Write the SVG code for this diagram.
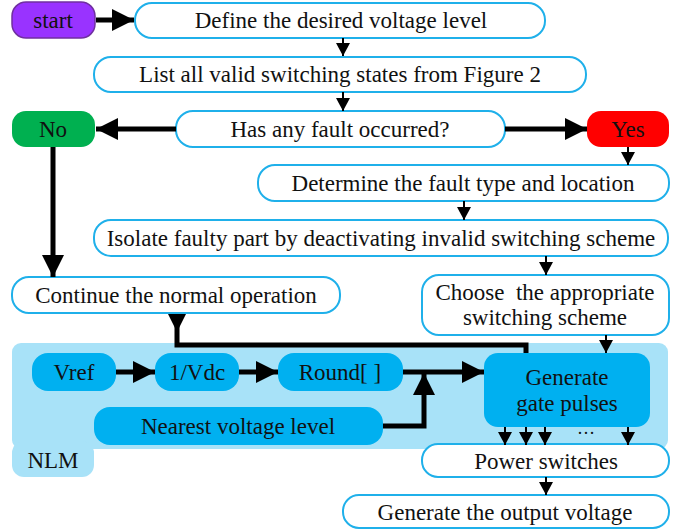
<svg xmlns="http://www.w3.org/2000/svg" width="686" height="529" viewBox="0 0 686 529">
<style>
text{font-family:"Liberation Serif","Times New Roman",serif;font-size:23px;fill:#111;text-anchor:middle;dominant-baseline:central}
.b{fill:#fff;stroke:#1fb0ea;stroke-width:2}
.d{fill:#00b0f0}
.l{fill:#a8e2f8}
.w{stroke:#000;stroke-width:5;fill:none}
.t{stroke:#000;stroke-width:2;fill:none}
</style>
<defs>
<marker id="big" markerUnits="userSpaceOnUse" markerWidth="24" markerHeight="22" refX="22" refY="11" orient="auto"><path d="M0,0L22,11L0,22Z" fill="#000"/></marker>
<marker id="sm" markerUnits="userSpaceOnUse" markerWidth="14" markerHeight="14" refX="13" refY="7" orient="auto"><path d="M0,0L13,7L0,14Z" fill="#000"/></marker>
</defs>
<g id="nlm-bg"><rect class="l" x="12" y="343" width="656" height="106" rx="9"/><rect class="l" x="12" y="441" width="82" height="36" rx="12"/><text x="53" y="460">NLM</text></g>
<g id="start"><rect x="12" y="2" width="83" height="36" rx="14" fill="#9933ff" stroke="#7030a0" stroke-width="1.5"/><text x="53" y="20">start</text></g>
<g id="define"><rect class="b" x="135" y="3" width="410" height="35" rx="17"/><text x="341" y="20">Define the desired voltage level</text></g>
<g id="list"><rect class="b" x="94" y="57" width="492" height="35" rx="17"/><text x="340" y="74">List all valid switching states from Figure 2</text></g>
<g id="fault"><rect class="b" x="176" y="111" width="329" height="36" rx="17"/><text x="340" y="129">Has any fault occurred?</text></g>
<g id="no"><rect x="12" y="111" width="83" height="36" rx="14" fill="#00b050"/><text x="53" y="129">No</text></g>
<g id="yes"><rect x="587" y="111" width="82" height="36" rx="14" fill="#ff0000"/><text x="628" y="129">Yes</text></g>
<g id="determine"><rect class="b" x="258" y="165" width="411" height="36" rx="17"/><text x="463" y="183">Determine the fault type and location</text></g>
<g id="isolate"><rect class="b" x="94" y="220" width="574" height="36" rx="17"/><text x="381" y="238">Isolate faulty part by deactivating invalid switching scheme</text></g>
<g id="continue"><rect class="b" x="12" y="277" width="328" height="36" rx="17"/><text x="176" y="295">Continue the normal operation</text></g>
<g id="choose"><rect class="b" x="422" y="275" width="247" height="60" rx="17"/><text x="545" y="292" style="white-space:pre">Choose  the appropriate</text><text x="545" y="317">switching scheme</text></g>
<g id="vref"><rect class="d" x="32" y="353" width="84" height="38" rx="16"/><text x="74" y="372">Vref</text></g>
<g id="vdc"><rect class="d" x="155" y="353" width="84" height="38" rx="16"/><text x="197" y="372">1/Vdc</text></g>
<g id="round"><rect class="d" x="278" y="353" width="125" height="38" rx="16"/><text x="340" y="372">Round[ ]</text></g>
<g id="nearest"><rect class="d" x="94" y="407" width="289" height="38" rx="16"/><text x="238" y="426">Nearest voltage level</text></g>
<g id="gate"><rect class="d" x="484" y="353" width="166" height="74" rx="14"/><text x="567" y="377">Generate</text><text x="567" y="403">gate pulses</text><text x="586" y="428" style="font-size:18px">…</text></g>
<g id="power"><rect class="b" x="422" y="444" width="247" height="33" rx="16"/><text x="546" y="461">Power switches</text></g>
<g id="output"><rect class="b" x="343" y="495" width="326" height="33" rx="16"/><text x="505" y="512">Generate the output voltage</text></g>
<g id="connectors">
<path class="w" d="M96,20H134" marker-end="url(#big)"/>
<path class="t" d="M343,38V56" marker-end="url(#sm)"/>
<path class="t" d="M343,92V111" marker-end="url(#sm)"/>
<path class="w" d="M176,129H96" marker-end="url(#big)"/>
<path class="w" d="M505,129H587" marker-end="url(#big)"/>
<path class="t" d="M628,147V165" marker-end="url(#sm)"/>
<path class="t" d="M464,201V220" marker-end="url(#sm)"/>
<path class="t" d="M546,256V275" marker-end="url(#sm)"/>
<path class="w" d="M53,147V277" marker-end="url(#big)"/>
<path d="M168,314H186L177,332Z" fill="#000"/>
<path class="w" d="M177,314V345H526V353"/>
<path class="t" d="M606,335V353" marker-end="url(#sm)"/>
<path class="w" d="M116,372H155" marker-end="url(#big)"/>
<path class="w" d="M239,372H278" marker-end="url(#big)"/>
<path class="w" d="M403,372H484" marker-end="url(#big)"/>
<path class="w" d="M383,426H424V373" marker-end="url(#big)"/>
<path class="t" d="M505,427V445" marker-end="url(#sm)"/>
<path class="t" d="M526,427V445" marker-end="url(#sm)"/>
<path class="t" d="M545,427V445" marker-end="url(#sm)"/>
<path class="t" d="M628,427V445" marker-end="url(#sm)"/>
<path class="t" d="M546,477V495" marker-end="url(#sm)"/>
</g>
</svg>
